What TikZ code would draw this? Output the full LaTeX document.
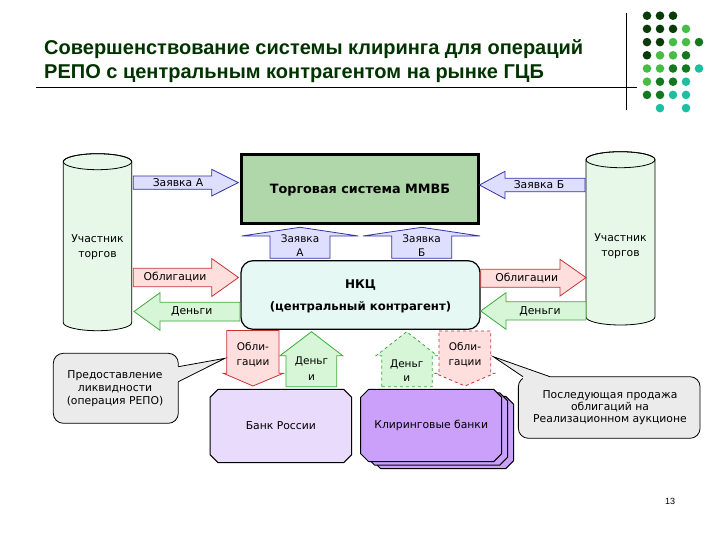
\documentclass[tikz,border=0pt]{standalone}
\usepackage{fontspec}
\setmainfont{DejaVu Sans}
\newfontfamily\titlefont{Liberation Sans}
\definecolor{titlegreen}{RGB}{0,51,0}
\definecolor{dD}{RGB}{10,60,10}
\definecolor{dM}{RGB}{20,120,30}
\definecolor{dL}{RGB}{70,190,70}
\definecolor{dT}{RGB}{30,190,160}
\definecolor{zfill}{RGB}{222,222,255}
\definecolor{zborder}{RGB}{50,50,170}
\definecolor{ofill}{RGB}{255,222,222}
\definecolor{oborder}{RGB}{200,50,50}
\definecolor{gfill}{RGB}{215,245,215}
\definecolor{gborder}{RGB}{60,170,60}
\definecolor{cylfill}{RGB}{232,248,232}
\definecolor{tsfill}{RGB}{176,215,170}
\definecolor{nkcfill}{RGB}{230,248,244}
\definecolor{brfill}{RGB}{233,219,252}
\definecolor{cbfill}{RGB}{202,160,250}
\definecolor{callfill}{RGB}{235,235,235}
\newcommand\myocta[5]{\draw[#1] (#2+8,#3) -- (#4-8,#3) -- (#4,#3+8) -- (#4,#5-8) -- (#4-8,#5) -- (#2+8,#5) -- (#2,#5-8) -- (#2,#3+8) -- cycle;}
\tikzset{
  zarrow/.style={draw=zborder, fill=zfill, line width=0.8pt},
  oarrow/.style={draw=oborder, fill=ofill, line width=0.8pt},
  garrow/.style={draw=gborder, fill=gfill, line width=0.8pt},
  lbl/.style={font=\fontsize{10.8}{13}\selectfont, inner sep=0pt, align=center},
  boldlbl/.style={font=\bfseries\fontsize{12}{14}\selectfont, inner sep=0pt, align=center},
  cyl/.style={draw=black, fill=cylfill, line width=0.8pt},
  ttl/.style={anchor=base west, inner sep=0pt, text=titlegreen, font=\titlefont\bfseries\fontsize{20}{24}\selectfont},
}
\begin{document}
\begin{tikzpicture}[x=1pt,y=-1pt]
\useasboundingbox[fill=white] (0,0) rectangle (720,540);

% title
\node[ttl] (t1) at (44,55) {Совершенствование системы клиринга для операций};
\node[ttl] (t2) at (44,79) {РЕПО с центральным контрагентом на рынке ГЦБ};
\draw[line width=0.8pt] (36,87.5) -- (637,87.5);
\draw[line width=0.8pt] (626,12.7) -- (626,110);

% dots
\foreach \c/\r/\col in {1/1/dD,2/1/dD,3/1/dD,
  1/2/dD,2/2/dD,3/2/dD,4/2/dL,
  1/3/dD,2/3/dD,3/3/dL,4/3/dL,5/3/dM,
  1/4/dD,2/4/dL,3/4/dL,4/4/dM,
  1/5/dL,2/5/dL,3/5/dM,4/5/dM,5/5/dT,
  1/6/dL,2/6/dM,3/6/dM,4/6/dT,
  1/7/dM,2/7/dM,3/7/dT,4/7/dT,
  2/8/dT,4/8/dT}
  \fill[\col] ({647+13*(\c-1)},{15.7+13.2*(\r-1)}) circle[radius=4.3pt];

% left cylinder
\path[cyl] (63.3,161.7) -- (63.3,322.7) arc[start angle=180,end angle=360,x radius=34.2pt,y radius=8pt] -- (131.7,161.7) arc[start angle=0,end angle=180,x radius=34.2pt,y radius=8pt] -- cycle;
\draw[line width=0.8pt] (97.5,161.7) ellipse[x radius=34.2pt,y radius=8pt];
\node[lbl, font=\fontsize{10.8}{15.5}\selectfont] (uch1) at (97.5,247) {Участник\\торгов};

% right cylinder
\path[cyl] (586,159.7) -- (586,317) arc[start angle=180,end angle=360,x radius=34.5pt,y radius=8pt] -- (655,159.7) arc[start angle=0,end angle=180,x radius=34.5pt,y radius=8pt] -- cycle;
\draw[line width=0.8pt] (620.5,159.7) ellipse[x radius=34.5pt,y radius=8pt];
\node[lbl, font=\fontsize{10.8}{15.5}\selectfont] (uch2) at (620.5,246) {Участник\\торгов};

% trading system
\node[draw=black, double=black, double distance=1.6pt, line width=0.6pt, fill=tsfill, minimum width=237pt, minimum height=69pt, inner sep=0pt] (ts) at (360,188.7) {};
\node[boldlbl, font=\bfseries\fontsize{12.8}{14}\selectfont] (tstext) at (360,190) {Торговая система ММВБ};

% NKC
\node[draw=black, line width=1.2pt, fill=nkcfill, rounded corners=12pt, minimum width=239pt, minimum height=68.6pt, inner sep=0pt] (nkc) at (360.5,295) {};
\node[boldlbl] (nkc1) at (360.5,285) {НКЦ};
\node[boldlbl, font=\bfseries\fontsize{11.7}{14}\selectfont] (nkc2) at (360.5,307) {(центральный контрагент)};

% Заявка А (right arrow)
\path[zarrow] (133.3,176) -- (211.7,176) -- (211.7,169.3) -- (238.3,182.6) -- (211.7,196) -- (211.7,189.3) -- (133.3,189.3) -- cycle;
\node[lbl] (zA) at (178,182.6) {Заявка А};
% Заявка Б (left arrow)
\path[zarrow] (585,178.3) -- (505,178.3) -- (505,171.3) -- (479.5,185) -- (505,198.7) -- (505,191.7) -- (585,191.7) -- cycle;
\node[lbl] (zB) at (539,185) {Заявка Б};

% up arrows between TS and NKC
\path[zarrow] (270,258.3) -- (270,236) -- (241.7,236) -- (300,227.3) -- (358.3,236) -- (330,236) -- (330,258.3) -- cycle;
\node[lbl, font=\fontsize{10.5}{13.3}\selectfont] (zuA) at (300,245.6) {Заявка\\А};
\path[zarrow] (391.7,258.3) -- (391.7,236) -- (363,236) -- (421.7,227.3) -- (480,236) -- (451.7,236) -- (451.7,258.3) -- cycle;
\node[lbl, font=\fontsize{10.5}{13.3}\selectfont] (zuB) at (421.7,245.6) {Заявка\\Б};

% Облигации left
\path[oarrow] (133.3,268.3) -- (211.7,268.3) -- (211.7,258.5) -- (238.5,277.5) -- (211.7,296.5) -- (211.7,286.7) -- (133.3,286.7) -- cycle;
\node[lbl] (obL) at (175,277.5) {Облигации};
% Деньги left
\path[garrow] (240,302.3) -- (160,302.3) -- (160,292.7) -- (134,311.5) -- (160,330.3) -- (160,321) -- (240,321) -- cycle;
\node[lbl] (dnL) at (191.7,311.7) {Деньги};
% Облигации right
\path[oarrow] (480.7,269.3) -- (560,269.3) -- (560,259.3) -- (586,277.6) -- (560,296) -- (560,287.3) -- (480.7,287.3) -- cycle;
\node[lbl] (obR) at (526.7,278) {Облигации};
% Деньги right
\path[garrow] (586,301.7) -- (506,301.7) -- (506,292.7) -- (480.7,311) -- (506,329.3) -- (506,320) -- (586,320) -- cycle;
\node[lbl] (dnR) at (540,311.5) {Деньги};

% bottom arrows
\path[oarrow] (226.7,330.5) -- (279,330.5) -- (279,373.3) -- (283.3,373.3) -- (253,386) -- (223.3,373.3) -- (226.7,373.3) -- cycle;
\node[lbl, font=\fontsize{10.5}{15.6}\selectfont] (obB1) at (253,354.5) {Обли-\\гации};
\path[garrow] (286,386.7) -- (286,355.7) -- (280,355.7) -- (311.5,331.7) -- (342.7,355.7) -- (336.7,355.7) -- (336.7,386.7) -- cycle;
\node[lbl, font=\fontsize{10.5}{16}\selectfont] (dnB1) at (311.5,368.5) {Деньг\\и};
\path[garrow, dashed] (381.7,386.7) -- (381.7,355.7) -- (376,355.7) -- (406.7,331.7) -- (437.3,355.7) -- (432.3,355.7) -- (432.3,386.7) -- cycle;
\node[lbl, font=\fontsize{10.5}{14}\selectfont] (dnB2) at (406.7,371) {Деньг\\и};
\path[oarrow, dashed] (439,331) -- (490.7,331) -- (490.7,373.3) -- (494.5,373.3) -- (465,386) -- (435,373.3) -- (439,373.3) -- cycle;
\node[lbl, font=\fontsize{10.5}{15}\selectfont] (obB2) at (465,354.5) {Обли-\\гации};

% Bank of Russia
\myocta{draw=black, fill=brfill, line width=1pt}{210}{389.3}{351.7}{462.7}
\node[lbl] (br) at (280.8,426) {Банк России};

% Clearing banks
\myocta{draw=black, fill=cbfill, line width=1pt}{372.7}{396.3}{513.7}{468.7}
\myocta{draw=black, fill=cbfill, line width=1pt}{366.7}{392.8}{507.7}{465.2}
\myocta{draw=black, fill=cbfill, line width=1pt}{360.7}{389.3}{501.7}{461.7}
\node[lbl] (cb) at (431.2,425.5) {Клиринговые банки};

% callout left
\node[draw=black, fill=callfill, line width=0.8pt, rounded corners=10pt, minimum width=125pt, minimum height=70pt, inner sep=0pt] (cl) at (115.8,388.3) {};
\fill[callfill] (176,366.2) -- (178.3,366.7) -- (225,358.3) -- (178.3,381.7) -- (176,382.2) -- cycle;
\draw[line width=0.8pt] (178.3,366.7) -- (225,358.3) -- (178.3,381.7);
\node[lbl, font=\fontsize{10.8}{13}\selectfont] (cltext) at (115,389) {Предоставление\\ликвидности\\(операция РЕПО)};

% callout right
\node[draw=black, fill=callfill, line width=0.8pt, rounded corners=10pt, minimum width=181.7pt, minimum height=61.6pt, inner sep=0pt] (cr) at (609.2,407.5) {};
\fill[callfill] (523,379) -- (523,376.7) -- (493.3,356.7) -- (550,376.7) -- (550,379) -- cycle;
\draw[line width=0.8pt] (523,376.7) -- (493.3,356.7) -- (550,376.7);
\node[lbl, font=\fontsize{10.8}{12}\selectfont] (crtext) at (610,408) {Последующая продажа\\облигаций на\\Реализационном аукционе};

% page number
\node[inner sep=0pt, font=\titlefont\fontsize{9}{10}\selectfont] (pn) at (670,501.7) {13};
\end{tikzpicture}
\end{document}
